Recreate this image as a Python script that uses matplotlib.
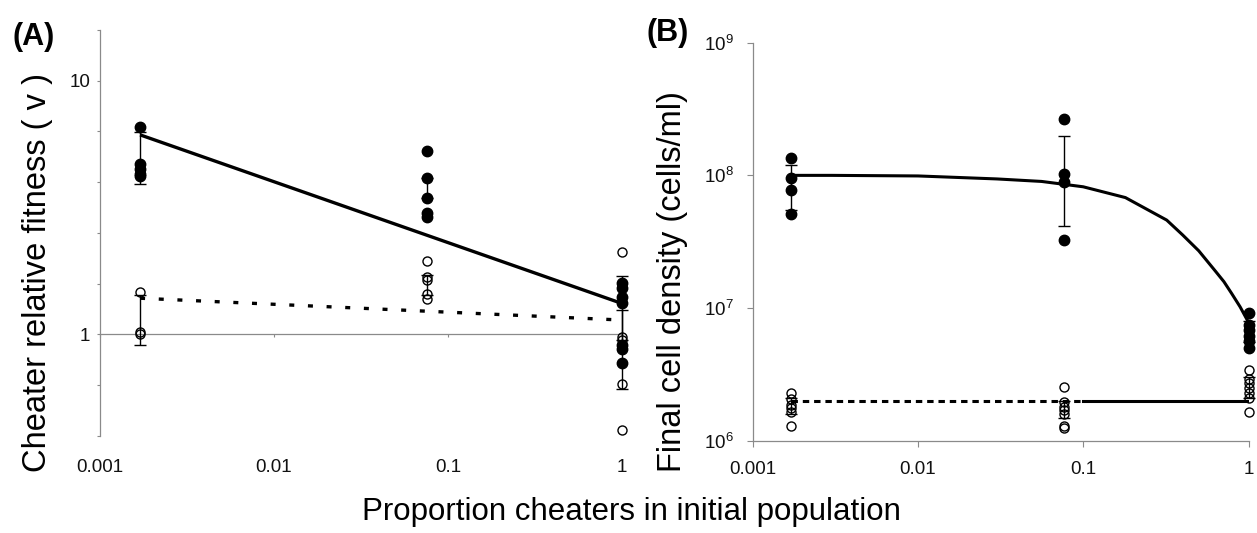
import numpy as np
import matplotlib
matplotlib.use('Agg')
import matplotlib.pyplot as plt
from matplotlib.ticker import FixedLocator, FuncFormatter, NullLocator

plt.rcParams['font.family'] = ['Liberation Sans', 'DejaVu Sans']
plt.rcParams['mathtext.fontset'] = 'custom'
plt.rcParams['mathtext.rm'] = 'Liberation Sans'
plt.rcParams['mathtext.it'] = 'Liberation Sans:italic'

# ---------------- data ----------------
props = [0.0017, 0.076, 1.0]

# Panel A: cheater relative fitness
a_filled = [[6.6, 4.7, 4.5, 4.3, 4.2],
            [5.3, 4.15, 3.45, 3.0, 2.9],
            [1.59, 1.52, 1.41, 1.33, 0.91, 0.88, 0.77]]
a_open = [[1.47, 1.02, 1.0],
          [1.94, 1.69, 1.64, 1.45, 1.38],
          [2.11, 0.98, 0.95, 0.64, 0.42]]
a_filled_err_lo = [3.91, 3.44, 0.95]
a_filled_err_hi = [6.27, 4.15, 1.70]
a_open_err_lo = [0.91, 1.43, 0.61]
a_open_err_hi = [1.43, 1.72, 1.25]
a_fit_x = [0.0017, 1.0]
a_fit_solid = [6.12, 1.325]
a_fit_dashed = [1.39, 1.14]

# Panel B: final cell density
b_filled = [[1.36e8, 9.6e7, 7.7e7, 5.1e7],
            [2.67e8, 1.03e8, 8.9e7, 3.28e7],
            [9.1e6, 7.5e6, 6.8e6, 6.2e6, 5.6e6, 5.0e6]]
b_open = [[2.3e6, 2.05e6, 1.85e6, 1.75e6, 1.65e6, 1.3e6],
          [2.55e6, 1.95e6, 1.8e6, 1.7e6, 1.6e6, 1.3e6, 1.25e6],
          [3.4e6, 2.9e6, 2.7e6, 2.5e6, 2.3e6, 2.1e6, 1.65e6]]
b_filled_err_lo = [5.45e7, 4.13e7, 5.5e6]
b_filled_err_hi = [1.19e8, 1.97e8, 8.0e6]
b_open_err_lo = [1.6e6, 1.48e6, 2.1e6]
b_open_err_hi = [2.1e6, 2.0e6, 3.0e6]
b_curve_x = [0.0017, 0.003, 0.01, 0.03, 0.056, 0.1, 0.18, 0.32, 0.4, 0.5,
             0.63, 0.71, 0.79, 0.89, 1.0]
b_curve_y = [1.0e8, 1.0e8, 9.9e7, 9.4e7, 9.0e7, 8.2e7, 6.8e7, 4.6e7, 3.55e7, 2.7e7,
             1.9e7, 1.58e7, 1.29e7, 1.02e7, 7.8e6]
b_flat_dashed_x = [0.0017, 0.1]
b_flat_solid_x = [0.1, 1.0]
b_flat_y = 2.0e6

x_tick_vals = [0.001, 0.01, 0.1, 1]
x_tick_labels = ['0.001', '0.01', '0.1', '1']

GRAY = '#8a8a8a'
W, H = 1257, 533
fig = plt.figure(figsize=(W / 100, H / 100), dpi=100)


def add_ax(l, t, r, b):
    return fig.add_axes([l / W, 1 - b / H, (r - l) / W, (b - t) / H])


def draw_points(ax, groups, filled, ms):
    for x, vals in zip(props, groups):
        if filled:
            ax.plot([x] * len(vals), vals, 'o', color='black', ms=ms,
                    clip_on=False, zorder=4)
        else:
            ax.plot([x] * len(vals), vals, 'o', mfc='none', mec='black',
                    mew=1.0, ms=ms, clip_on=False, zorder=4)


def draw_err(ax, lo, hi):
    for x, l, h in zip(props, lo, hi):
        mid = (l + h) / 2
        ax.errorbar([x], [mid], yerr=[[mid - l], [h - mid]], fmt='none',
                    ecolor='black', elinewidth=1.0, capsize=4, capthick=1.0,
                    clip_on=False, zorder=3)


# ---------------- panel A ----------------
axA = add_ax(100, 30, 622, 436)
axA.set_xscale('log')
axA.set_yscale('log')
axA.set_xlim(1e-3, 1)
axA.set_ylim(10 ** -0.4, 10 ** 1.2)
for s in ['top', 'right']:
    axA.spines[s].set_visible(False)
axA.spines['left'].set_color(GRAY)
axA.spines['left'].set_linewidth(0.9)
axA.spines['bottom'].set_position(('data', 1))
axA.spines['bottom'].set_color(GRAY)
axA.spines['bottom'].set_linewidth(0.9)

axA.yaxis.set_major_locator(FixedLocator(10 ** np.arange(-0.4, 1.21, 0.2)))
axA.yaxis.set_minor_locator(NullLocator())
axA.yaxis.set_major_formatter(FuncFormatter(
    lambda v, p: ('10' if abs(v - 10) < 1e-6 else ('1' if abs(v - 1) < 1e-6 else ''))))
axA.tick_params(axis='y', direction='out', length=2.5, width=0.8, color=GRAY,
                labelsize=13.5, pad=4.5, labelcolor='#111111')
axA.xaxis.set_major_locator(FixedLocator(x_tick_vals))
axA.xaxis.set_minor_locator(NullLocator())
axA.set_xticklabels(x_tick_labels)
axA.tick_params(axis='x', direction='out', length=2.5, width=0.8, color=GRAY,
                labelsize=13.5, pad=87, labelcolor='#111111')

axA.plot(a_fit_x, a_fit_solid, color='black', lw=2.4, solid_capstyle='butt', zorder=2)
axA.plot(a_fit_x, a_fit_dashed, color='black', lw=2.4, dashes=(1.5, 4.1),
         dash_capstyle='butt', zorder=2)
draw_err(axA, a_filled_err_lo, a_filled_err_hi)
draw_err(axA, a_open_err_lo, a_open_err_hi)
draw_points(axA, a_filled, True, 7.5)
draw_points(axA, a_open, False, 6.5)

# ---------------- panel B ----------------
axB = add_ax(752.7, 42.7, 1248.5, 440.7)
axB.set_xscale('log')
axB.set_yscale('log')
axB.set_xlim(1e-3, 1)
axB.set_ylim(1e6, 1e9)
for s in ['top', 'right']:
    axB.spines[s].set_visible(False)
for s in ['left', 'bottom']:
    axB.spines[s].set_color(GRAY)
    axB.spines[s].set_linewidth(0.9)
axB.yaxis.set_major_locator(FixedLocator([1e6, 1e7, 1e8, 1e9]))
axB.yaxis.set_minor_locator(NullLocator())
axB.set_yticklabels([r'$\mathregular{10^{6}}$', r'$\mathregular{10^{7}}$',
                     r'$\mathregular{10^{8}}$', r'$\mathregular{10^{9}}$'])
axB.tick_params(axis='y', direction='out', length=4.5, width=0.8, color=GRAY,
                labelsize=13.5, pad=9, labelcolor='#111111')
axB.xaxis.set_major_locator(FixedLocator(x_tick_vals))
axB.xaxis.set_minor_locator(NullLocator())
axB.set_xticklabels(x_tick_labels)
axB.tick_params(axis='x', direction='out', length=4, width=0.8, color=GRAY,
                labelsize=13.5, pad=10.5, labelcolor='#111111')

axB.plot(b_curve_x, b_curve_y, color='black', lw=2.2, zorder=2,
         solid_joinstyle='round')
axB.plot(b_flat_dashed_x, [b_flat_y] * 2, color='black', lw=2.2,
         dashes=(2.1, 1.6), dash_capstyle='butt', zorder=2)
axB.plot(b_flat_solid_x, [b_flat_y] * 2, color='black', lw=2.2, zorder=2)
draw_err(axB, b_filled_err_lo, b_filled_err_hi)
draw_err(axB, b_open_err_lo, b_open_err_hi)
draw_points(axB, b_filled, True, 7.5)
draw_points(axB, b_open, False, 6.5)

# ---------------- texts ----------------
fig.text(12 / W, 1 - 37 / H, '(A)', fontsize=22, weight='bold', ha='left', va='center')
fig.text(646 / W, 1 - 33 / H, '(B)', fontsize=22, weight='bold', ha='left', va='center')
fig.text(38 / W, 1 - 272 / H, 'Cheater relative fitness ( v )', rotation=90,
         fontsize=23.5, ha='center', va='center')
fig.text(672 / W, 1 - 282 / H, 'Final cell density (cells/ml)', rotation=90,
         fontsize=23.5, ha='center', va='center')
fig.text(631 / W, 1 - 512 / H, 'Proportion cheaters in initial population',
         fontsize=22.5, ha='center', va='center')

fig.savefig('out.png', dpi=100)
